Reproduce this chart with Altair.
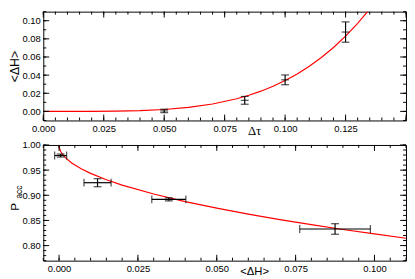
import altair as alt
import pandas as pd

# ---- measured points ----
dtau = [0.05, 0.0833, 0.1, 0.125]
dH = [0.0005, 0.0122, 0.0348, 0.0875]
dH_err = [0.0019, 0.0043, 0.0054, 0.0112]
pacc = [0.979, 0.925, 0.892, 0.833]
pacc_err = [0.003, 0.008, 0.003, 0.0105]

# ---- fit curves ----
fit_dtau = [0.0, 0.02, 0.03, 0.04, 0.05, 0.06, 0.07, 0.08, 0.085, 0.09, 0.095,
            0.10, 0.105, 0.11, 0.115, 0.12, 0.125, 0.13, 0.135]
fit_dH = [0.0, 0.00005, 0.00028, 0.00087, 0.0021, 0.0044, 0.0082, 0.0139, 0.0178,
          0.0223, 0.0277, 0.034, 0.0413, 0.0498, 0.0595, 0.0705, 0.083, 0.0971, 0.1129]

fit_x = [0.0, 0.00005, 0.0002, 0.0005, 0.001, 0.002, 0.004, 0.007, 0.01, 0.015,
         0.02, 0.03, 0.04, 0.05, 0.06, 0.07, 0.08, 0.09, 0.10, 0.11]
fit_p = [1.0, 0.996, 0.992, 0.9874, 0.9822, 0.9748, 0.9643, 0.9528, 0.9436, 0.931,
         0.9203, 0.9025, 0.8875, 0.8744, 0.8625, 0.8516, 0.8415, 0.832, 0.8231, 0.8146]

# ---- tick labels ----
top_x_labels = [0.0, 0.025, 0.05, 0.075, 0.1, 0.125]
top_y_labels = [0.0, 0.02, 0.04, 0.06, 0.08, 0.1]
bot_x_labels = [0.0, 0.025, 0.05, 0.075, 0.1]
bot_y_labels = [0.8, 0.85, 0.9, 0.95, 1.0]

W = 370
H1 = 111
H2 = 118
MAJ = 6
MIN = 3
TX = -29


def steps(lo, hi, step):
    n = int(round((hi - lo) / step))
    return [round(lo + i * step, 5) for i in range(n + 1)]


def tick_layers(vals, scale, axis, axis_def, H, length):
    df = pd.DataFrame({"v": vals})
    base = alt.Chart(df).mark_rule(color="black", strokeWidth=1)
    if axis == "x":
        enc = alt.X("v:Q", scale=scale, axis=axis_def)
        return [base.encode(x=enc, y=alt.value(H), y2=alt.value(H - length)),
                base.encode(x=enc, y=alt.value(0), y2=alt.value(length))]
    enc = alt.Y("v:Q", scale=scale, axis=axis_def)
    return [base.encode(y=enc, x=alt.value(0), x2=alt.value(length)),
            base.encode(y=enc, x=alt.value(W), x2=alt.value(W - length))]


# ================= top panel =================
sx1 = alt.Scale(domain=[0, 0.15], nice=False, zero=False)
sy1 = alt.Scale(domain=[-0.01, 0.11], nice=False, zero=False)

top_df = pd.DataFrame({
    "dtau": dtau, "dH": dH,
    "lo": [a - e for a, e in zip(dH, dH_err)],
    "hi": [a + e for a, e in zip(dH, dH_err)],
})
fit1_df = pd.DataFrame({"dtau": fit_dtau, "dH": fit_dH})

ax1 = alt.Axis(values=top_x_labels, format=".3f", title="Δτ",
               titleFont="Liberation Serif", titleFontSize=13,
               titleX=215, titleY=10, titleBaseline="middle", titleAlign="center")
ay1 = alt.Axis(values=top_y_labels, format=".2f", title="<ΔH>",
               titleFontSize=12.5, titleX=TX, titleY=H1 / 2,
               titleAlign="center", titleBaseline="middle")

curve1 = alt.Chart(fit1_df).mark_line(color="#ff0000", strokeWidth=1.2, clip=True).encode(
    x=alt.X("dtau:Q", scale=sx1, axis=ax1),
    y=alt.Y("dH:Q", scale=sy1, axis=ay1),
)
bars1 = alt.Chart(top_df).mark_rule(color="black", strokeWidth=1.2).encode(
    x=alt.X("dtau:Q", scale=sx1, axis=ax1), y=alt.Y("lo:Q", scale=sy1, axis=ay1), y2="hi:Q")
caplo1 = alt.Chart(top_df).mark_tick(orient="horizontal", size=8, thickness=1.2, color="black").encode(
    x=alt.X("dtau:Q", scale=sx1, axis=ax1), y=alt.Y("lo:Q", scale=sy1, axis=ay1))
caphi1 = alt.Chart(top_df).mark_tick(orient="horizontal", size=8, thickness=1.2, color="black").encode(
    x=alt.X("dtau:Q", scale=sx1, axis=ax1), y=alt.Y("hi:Q", scale=sy1, axis=ay1))
mid1 = alt.Chart(top_df).mark_tick(orient="horizontal", size=8, thickness=1.2, color="black").encode(
    x=alt.X("dtau:Q", scale=sx1, axis=ax1), y=alt.Y("dH:Q", scale=sy1, axis=ay1))

ticks1 = (tick_layers(top_x_labels + [0.15], sx1, "x", ax1, H1, MAJ)
          + tick_layers(steps(0, 0.15, 0.005), sx1, "x", ax1, H1, MIN)
          + tick_layers(top_y_labels, sy1, "y", ay1, H1, MAJ)
          + tick_layers(steps(-0.01, 0.11, 0.01), sy1, "y", ay1, H1, MIN))

top = alt.layer(curve1, *ticks1, bars1, caplo1, caphi1, mid1).properties(width=W, height=H1)

# ================= bottom panel =================
sx2 = alt.Scale(domain=[-0.005, 0.11], nice=False, zero=False)
sy2 = alt.Scale(domain=[0.77, 1.0], nice=False, zero=False)

bot_df = pd.DataFrame({
    "dH": dH, "p": pacc,
    "plo": [a - e for a, e in zip(pacc, pacc_err)],
    "phi": [a + e for a, e in zip(pacc, pacc_err)],
    "xlo": [a - e for a, e in zip(dH, dH_err)],
    "xhi": [a + e for a, e in zip(dH, dH_err)],
})
fit2_df = pd.DataFrame({"x": fit_x, "p": fit_p})

ax2 = alt.Axis(values=bot_x_labels, format=".3f", title="<ΔH>",
               titleFontSize=11.5, titleX=215, titleY=11,
               titleBaseline="middle", titleAlign="center")
ay2 = alt.Axis(values=bot_y_labels, format=".2f", title="")

curve2 = alt.Chart(fit2_df).mark_line(color="#ff0000", strokeWidth=1.2, clip=True).encode(
    x=alt.X("x:Q", scale=sx2, axis=ax2),
    y=alt.Y("p:Q", scale=sy2, axis=ay2),
)
vbar2 = alt.Chart(bot_df).mark_rule(color="black", strokeWidth=1.2).encode(
    x=alt.X("dH:Q", scale=sx2, axis=ax2), y=alt.Y("plo:Q", scale=sy2, axis=ay2), y2="phi:Q")
hbar2 = alt.Chart(bot_df).mark_rule(color="black", strokeWidth=1.2).encode(
    y=alt.Y("p:Q", scale=sy2, axis=ay2), x=alt.X("xlo:Q", scale=sx2, axis=ax2), x2="xhi:Q")
vcaplo = alt.Chart(bot_df).mark_tick(orient="horizontal", size=8, thickness=1.2, color="black").encode(
    x=alt.X("dH:Q", scale=sx2, axis=ax2), y=alt.Y("plo:Q", scale=sy2, axis=ay2))
vcaphi = alt.Chart(bot_df).mark_tick(orient="horizontal", size=8, thickness=1.2, color="black").encode(
    x=alt.X("dH:Q", scale=sx2, axis=ax2), y=alt.Y("phi:Q", scale=sy2, axis=ay2))
hcaplo = alt.Chart(bot_df).mark_tick(orient="vertical", size=8, thickness=1.2, color="black").encode(
    x=alt.X("xlo:Q", scale=sx2, axis=ax2), y=alt.Y("p:Q", scale=sy2, axis=ay2))
hcaphi = alt.Chart(bot_df).mark_tick(orient="vertical", size=8, thickness=1.2, color="black").encode(
    x=alt.X("xhi:Q", scale=sx2, axis=ax2), y=alt.Y("p:Q", scale=sy2, axis=ay2))

ticks2 = (tick_layers(bot_x_labels, sx2, "x", ax2, H2, MAJ)
          + tick_layers(steps(-0.005, 0.11, 0.005), sx2, "x", ax2, H2, MIN)
          + tick_layers(bot_y_labels, sy2, "y", ay2, H2, MAJ)
          + tick_layers(steps(0.77, 1.0, 0.01), sy2, "y", ay2, H2, MIN))

p_title = alt.Chart(pd.DataFrame({"t": ["P"]})).mark_text(
    angle=270, fontSize=12, font="Liberation Sans", align="center", baseline="middle", color="black"
).encode(x=alt.value(TX), y=alt.value(63), text="t:N")
acc_title = alt.Chart(pd.DataFrame({"t": ["acc"]})).mark_text(
    angle=270, fontSize=8.5, font="Liberation Sans", align="center", baseline="middle", color="black"
).encode(x=alt.value(TX + 4), y=alt.value(48), text="t:N")

bottom = alt.layer(curve2, *ticks2, vbar2, hbar2, vcaplo, vcaphi, hcaplo, hcaphi,
                   p_title, acc_title).properties(width=W, height=H2)

chart = alt.vconcat(top, bottom, spacing=1).configure_view(
    stroke="black", strokeWidth=1
).configure_axis(
    labelFont="Liberation Sans", labelFontSize=9.6, labelColor="black", labelPadding=3,
    ticks=False, domain=False, grid=False, labelFlush=False, labelOverlap=False,
    titleFont="Liberation Sans", titleFontWeight="normal", titleColor="black",
).properties(padding=0)

chart.save("out.html", embed_options={"renderer": "svg", "actions": False})
